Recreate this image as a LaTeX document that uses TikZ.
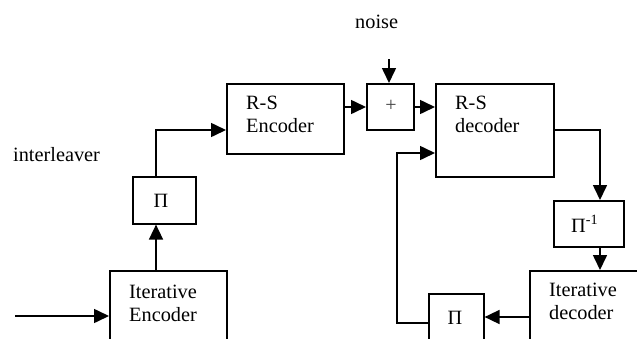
\documentclass[tikz,border=0pt]{standalone}
\usepackage{fontspec}
\setmainfont{Liberation Serif}
\usetikzlibrary{arrows.meta}
\begin{document}
\begin{tikzpicture}[x=1pt,y=-1pt,
  blk/.style={draw,line width=1.6pt,inner sep=0pt,anchor=north west},
  conn/.style={line width=1.6pt,-{Triangle[length=15pt,width=14pt]}},
  lbl/.style={font=\fontsize{20.3}{23}\selectfont,inner sep=0pt,anchor=base west}]
\useasboundingbox (0,0) rectangle (637,338);
\clip (0,0) rectangle (637,338);
% boxes
\node[blk,minimum width=117pt,minimum height=100pt] (ienc) at (109,270) {};
\node[blk,minimum width=63pt,minimum height=47pt] (pia) at (132,176) {};
\node[blk,minimum width=117pt,minimum height=70pt] (rsenc) at (226,83) {};
\node[blk,minimum width=47pt,minimum height=46pt] (plus) at (366,83) {};
\node[blk,minimum width=118pt,minimum height=93pt] (rsdec) at (435,83) {};
\node[blk,minimum width=70pt,minimum height=46pt] (piinv) at (553,200) {};
\node[blk,minimum width=130pt,minimum height=100pt] (idec) at (529,270) {};
\node[blk,minimum width=55pt,minimum height=80pt] (pib) at (428,293) {};
% texts
\node[lbl] (tnoise) at (355,28) {noise};
\node[lbl] (tinter) at (13,161) {interleaver};
\node[lbl,align=left,anchor=north west] (tienc) at (129,285) {Iterative\\Encoder};
\node[lbl,anchor=base] (tpia) at (161,207) {Π};
\node[lbl,align=left,anchor=north west] (trsenc) at (246,96) {R-S\\Encoder};
\node[lbl,anchor=center,font=\fontsize{20}{22}\selectfont,text=black!75] (tplus) at (391,106) {+};
\node[lbl,align=left,anchor=north west] (trsdec) at (455,96) {R-S\\decoder};
\node[lbl,anchor=base west] (tpiinv) at (571,232) {Π\textsuperscript{-1}};
\node[lbl,align=left,anchor=north west] (tidec) at (549,283) {Iterative\\decoder};
\node[lbl,anchor=base] (tpib) at (455,324) {Π};
% helper coordinates
\coordinate (xin) at (15,316);
\coordinate (xa) at (156,0);
\coordinate (ya) at (0,130);
\coordinate (yb) at (0,107);
\coordinate (xn) at (389,59);
\coordinate (xc) at (600,0);
\coordinate (yd) at (0,317);
\coordinate (ye) at (0,323);
\coordinate (xf) at (397,0);
\coordinate (yf) at (0,153);
% connectors
\draw[conn] (xin) -- (xin -| ienc.west);
\draw[conn] (ienc.north -| xa) -- (pia.south -| xa);
\draw[conn] (pia.north -| xa) -- (xa |- ya) -- (rsenc.west |- ya);
\draw[conn] (rsenc.east |- yb) -- (plus.west |- yb);
\draw[conn] (xn) -- (plus.north -| xn);
\draw[conn] (plus.east |- yb) -- (rsdec.west |- yb);
\draw[conn] (rsdec.east |- ya) -- (xc |- ya) -- (piinv.north -| xc);
\draw[conn] (piinv.south -| xc) -- (idec.north -| xc);
\draw[conn] (idec.west |- yd) -- (pib.east |- yd);
\draw[conn] (pib.west |- ye) -- (xf |- ye) -- (xf |- yf) -- (rsdec.west |- yf);
\end{tikzpicture}
\end{document}
